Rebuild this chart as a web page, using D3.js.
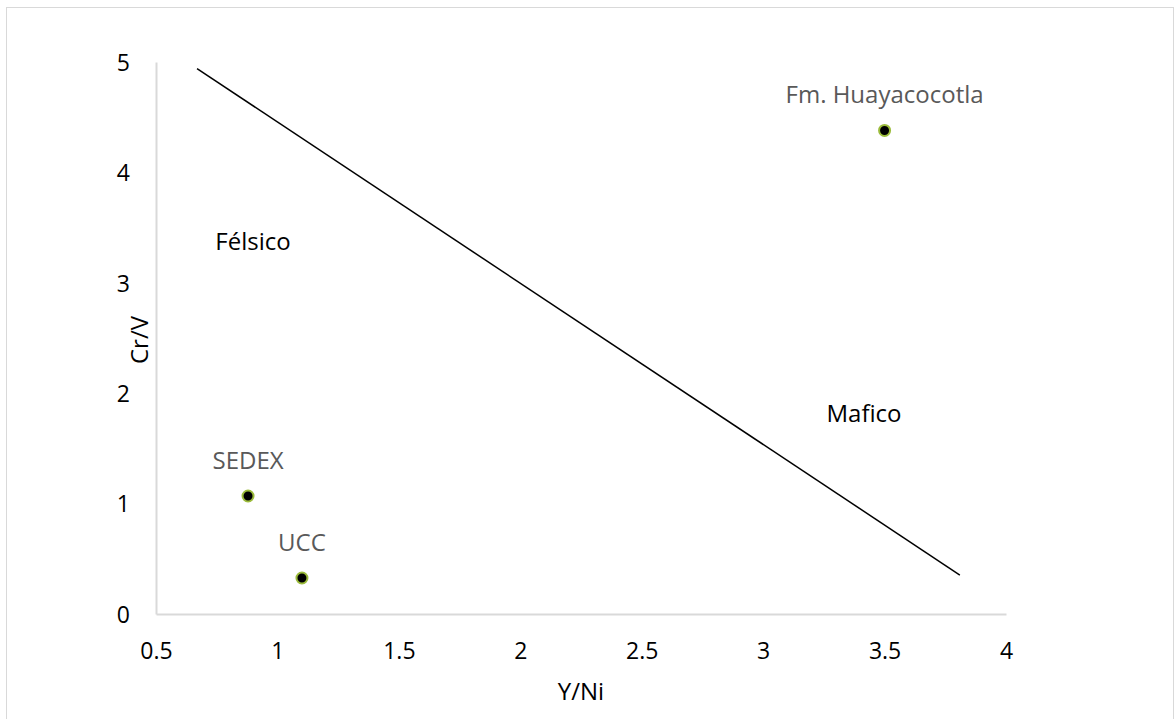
<!DOCTYPE html>
<html>
<head>
<meta charset="utf-8">
<script src="https://cdn.jsdelivr.net/npm/d3@7"></script>
<style>
  body { margin: 0; background: #fff; }
  svg text { font-family: "Open Sans", sans-serif; }
</style>
</head>
<body>
<div id="chart"></div>
<script>
// sample points (Y/Ni, Cr/V)
var names = ["Fm. Huayacocotla", "SEDEX", "UCC"];
var yNi = [3.5, 0.879, 1.101];
var crV = [4.38, 1.069, 0.326];

// discriminant line (Y/Ni, Cr/V)
var lineX = [0.669, 3.81];
var lineY = [4.94, 0.353];

var xTicks = [0.5, 1, 1.5, 2, 2.5, 3, 3.5, 4];
var yTicks = [0, 1, 2, 3, 4, 5];

var w = 1175, h = 719;
var svg = d3.select("#chart").append("svg").attr("width", w).attr("height", h);

// outer border
svg.append("rect").attr("x", 6.5).attr("y", 7.5).attr("width", 1167).attr("height", 720)
    .attr("fill", "none").attr("stroke", "#d9d9d9");

var x = d3.scaleLinear().domain([0.5, 4]).range([156, 1006]);
var y = d3.scaleLinear().domain([0, 5]).range([614, 62]);

var xAxis = svg.append("g").attr("transform", "translate(0,614)")
    .call(d3.axisBottom(x).tickValues(xTicks).tickSize(0).tickFormat(d3.format("")));
var yAxis = svg.append("g").attr("transform", "translate(156,0)")
    .call(d3.axisLeft(y).tickValues(yTicks).tickSize(0).tickFormat(d3.format("")));

[xAxis, yAxis].forEach(function(a){
    a.attr("font-family", null).attr("font-size", null);
    a.select(".domain").attr("stroke", "#d9d9d9").attr("stroke-width", 2);
    a.selectAll("text").style("font-size", "23px").attr("fill", "#000");
});
xAxis.selectAll("text").attr("dy", 0).attr("y", 45);
yAxis.selectAll("text").attr("x", -26).attr("dy", "0.36em");

// axis titles
svg.append("text").attr("x", 581).attr("y", 700).attr("text-anchor", "middle")
    .style("font-size", "24px").text("Y/Ni");
svg.append("text").attr("transform", "translate(148,340) rotate(-90)").attr("text-anchor", "middle")
    .style("font-size", "24px").text("Cr/V");

// field line
svg.append("line")
    .attr("x1", x(lineX[0])).attr("y1", y(lineY[0]))
    .attr("x2", x(lineX[1])).attr("y2", y(lineY[1]))
    .attr("stroke", "#000").attr("stroke-width", 1.5);

// field names
svg.append("text").attr("x", 253).attr("y", 250).attr("text-anchor", "middle")
    .style("font-size", "24px").text("Félsico");
svg.append("text").attr("x", 864).attr("y", 422).attr("text-anchor", "middle")
    .style("font-size", "24px").text("Mafico");

// points
svg.selectAll("circle").data(names).enter().append("circle")
    .attr("cx", function(d, i){ return x(yNi[i]); })
    .attr("cy", function(d, i){ return y(crV[i]); })
    .attr("r", 5.5)
    .attr("fill", "#000")
    .attr("stroke", "#9bbb3b")
    .attr("stroke-width", 2);

svg.selectAll(".lbl").data(names).enter().append("text")
    .attr("class", "lbl")
    .attr("x", function(d, i){ return x(yNi[i]); })
    .attr("y", function(d, i){ return y(crV[i]) - 27; })
    .attr("text-anchor", "middle")
    .style("font-size", "24px")
    .attr("fill", "#595959")
    .text(function(d){ return d; });
</script>
</body>
</html>
